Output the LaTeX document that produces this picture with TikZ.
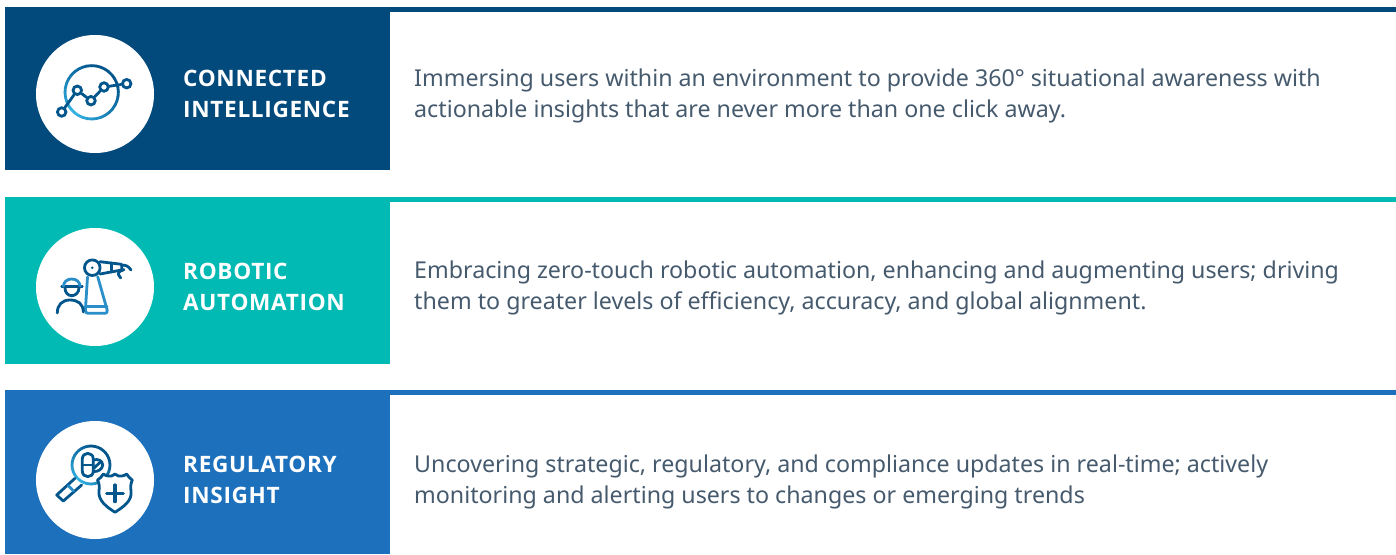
\documentclass[tikz,border=0pt]{standalone}
\usepackage{fontspec}
\setmainfont{Noto Sans}
\newfontfamily\headfont{Open Sans}[LetterSpace=3.0]
\definecolor{navy}{HTML}{02497C}
\definecolor{teal}{HTML}{00BAB3}
\definecolor{azure}{HTML}{1C70BC}
\definecolor{iconD}{HTML}{02568C}
\definecolor{iconL}{HTML}{35B5E5}
\definecolor{iconM}{HTML}{2A8FC8}
\definecolor{bodytxt}{HTML}{465A6E}
\newcommand{\gradring}[3]{%
  \foreach \ang in {0,10,...,350}{%
    \pgfmathsetmacro{\pct}{(180-abs(mod(\ang-45+540,360)-180))/1.4}%
    \pgfmathsetmacro{\pct}{min(100,\pct)}%
    \draw[line width=2.8pt,draw=iconD!\pct!iconL] (#1,#2) ++(\ang:#3) arc[start angle=\ang,end angle=\ang+11,radius=#3];
  }}
\tikzset{
  panel/.style={anchor=north west,minimum width=385pt,inner sep=0,outer sep=0},
  topbar/.style={minimum width=1006pt,minimum height=5pt,anchor=north west,inner sep=0,outer sep=0},
  disc/.style={circle,fill=white,minimum size=118pt,inner sep=0},
  head/.style={anchor=west,align=left,text=white,font=\headfont\fontsize{22.6}{31}\selectfont\bfseries,inner sep=0},
  body/.style={anchor=west,align=left,text=bodytxt,font=\fontsize{23.22}{31}\selectfont,inner sep=0},
  ic/.style={line width=2.8pt,draw=iconD,line cap=round,line join=round},
  il/.style={line width=2.8pt,draw=iconM,line cap=round,line join=round},
  dot/.style={circle,draw=iconD,line width=2.8pt,fill=white,minimum size=8.5pt,inner sep=0},
}
\begin{document}
\begin{tikzpicture}[x=1pt,y=1pt]
\useasboundingbox (0,-554) rectangle (1396,0);
\fill[white] (0,-554) rectangle (1396,0);
\begin{scope}[y=-1pt]
% row 1
\node[panel,minimum height=163pt,fill=navy] (p1) at (5,7) {};
\node[topbar,fill=navy] (b1) at (390,7) {};
\node[disc] (d1) at (95,94) {};
\node[head] (h1) at (183,94) {CONNECTED\\INTELLIGENCE};
\node[body] (t1) at (414,95.5) {Immersing users within an environment to provide 360° situational awareness with\\actionable insights that are never more than one click away.};
% row 2
\node[panel,minimum height=167pt,fill=teal] (p2) at (5,197) {};
\node[topbar,fill=teal] (b2) at (390,197) {};
\node[disc] (d2) at (95,287) {};
\node[head] (h2) at (183,286.5) {ROBOTIC\\AUTOMATION};
\node[body] (t2) at (414,288.3) {Embracing zero-touch robotic automation, enhancing and augmenting users; driving\\them to greater levels of efficiency, accuracy, and global alignment.};
% row 3
\node[panel,minimum height=164pt,fill=azure] (p3) at (5,390) {};
\node[topbar,fill=azure] (b3) at (390,390) {};
\node[disc] (d3) at (95,480) {};
\node[head] (h3) at (183,480) {REGULATORY\\INSIGHT};
\node[body] (t3) at (414,481.5) {Uncovering strategic, regulatory, and compliance updates in real-time; actively\\monitoring and alerting users to changes or emerging trends};
\end{scope}
% icon 1
\gradring{91.7}{-92.3}{26.7}
\begin{scope}[y=-1pt]
\node[dot] (a) at (61.7,112) {};
\node[dot] (b) at (77.3,90.3) {};
\node[dot] (c) at (91,100.7) {};
\node[dot] (e) at (104,87) {};
\node[dot] (f) at (126.7,83.7) {};
\draw[ic] (a)--(b) (b)--(c) (c)--(e) (e)--(f);
% icon 2: pedestal
\draw[il] (87.5,277) -- (85.4,310) .. controls (85.3,312) and (86,313.3) .. (88,313.3) -- (105,313.3) .. controls (107,313.3) and (107.5,312) .. (107.2,310) -- (97.7,276.7);
\draw[il] (86,306.7) -- (107,306.7);
% worker
\draw[ic] (57.3,313) .. controls (57.3,305) and (62,300) .. (70,300) .. controls (78,300) and (83.3,304) .. (83.3,312);
\draw[ic] (61.7,286.3) -- (82.3,286.3);
\draw[il] (63.5,286.3) .. controls (63.5,282) and (67,279) .. (71.7,279) .. controls (76.5,279) and (80,282) .. (80,286.3);
\draw[ic] (65,288) .. controls (65,292.5) and (68,295.7) .. (71.7,295.7) .. controls (75.5,295.7) and (79,292.5) .. (79,288);
% arm
\draw[ic] (92.3,267.7) circle (7.8);
\fill[iconD] (92.3,267.7) circle (1.4);
\draw[ic] (100,261.7) -- (121.7,264.3) -- (121.7,270) -- (100,274);
\draw[ic] (111.7,263) -- (111.7,272);
\draw[ic] (121.7,265.5) .. controls (125,264.5) and (128.5,266) .. (131,270);
\draw[ic] (124,269.5) .. controls (121,270.5) and (118,272) .. (118.3,274.3) -- (120.7,278);
\end{scope}
% icon 3: lens
\gradring{91}{-465}{19}
\begin{scope}[y=-1pt]
% pill
\draw[ic] (82.3,459) .. controls (82.3,451.5) and (93.3,451.5) .. (93.3,459) -- (93.3,471) .. controls (93.3,478.5) and (82.3,478.5) .. (82.3,471) -- cycle;
\draw[ic] (82.3,465) -- (93.3,465);
% second pill
\draw[ic] (93.5,460) .. controls (98,458.5) and (102.5,460.5) .. (102.7,465) .. controls (102.5,469) and (98,472) .. (93.5,471.5);
\draw[ic] (94,468) -- (101,461.5);
% handle
\draw[ic] (75,478.3) -- (56.7,495) -- (63.3,501) -- (81.7,485);
\draw[il] (68.3,485.7) -- (73.5,491);
% shield
\draw[ic,fill=white] (115,474) .. controls (113,476) and (110.5,476.5) .. (108.3,476) .. controls (106.5,476) and (104.5,475) .. (103.3,474) .. controls (102,476.5) and (100,478.5) .. (97.5,480) .. controls (99.5,484) and (99.5,487) .. (99,491) .. controls (98,501) and (107,507) .. (115,512.3) .. controls (123,507) and (132.5,501) .. (131,491) .. controls (130.5,487) and (130.5,484) .. (132.3,480) .. controls (130,478.5) and (128,476.5) .. (126.7,474) .. controls (125.5,475) and (123.5,476) .. (121.7,476) .. controls (119.5,476.5) and (117,476) .. (115,474) -- cycle;
\draw[ic,line width=3.2pt] (115,485) -- (115,501.6) (106.7,493.3) -- (123.3,493.3);
\end{scope}
\end{tikzpicture}
\end{document}
